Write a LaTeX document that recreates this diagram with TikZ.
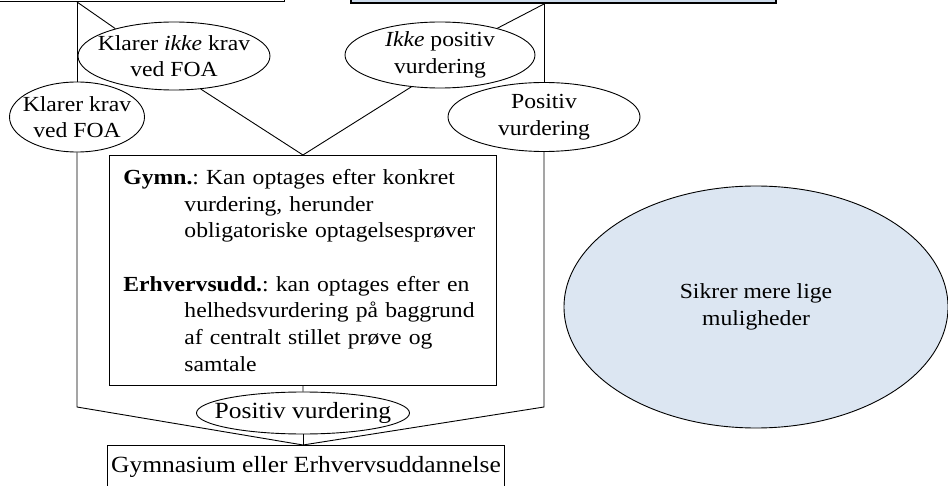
\documentclass[tikz,border=0pt]{standalone}
\usepackage{fontspec}
\setmainfont{Liberation Serif}[FakeStretch=1.1]
\usetikzlibrary{shapes.geometric}
\definecolor{boxblue}{RGB}{205,219,235}
\definecolor{ellblue}{RGB}{220,230,242}
\frenchspacing
\begin{document}
\begin{tikzpicture}[x=1pt,y=-1pt,line width=0.9pt,
  every node/.style={font=\fontsize{21.5}{26.7}\selectfont},
  bigfont/.style={font=\fontsize{23.2}{26.7}\selectfont},
  oval/.style={draw,ellipse,fill=white,inner xsep=-30pt,inner ysep=0pt,align=center},
  plainbox/.style={draw,rectangle,fill=white}]
\useasboundingbox (0,0) rectangle (948,486);
\clip (0,0) rectangle (948,486);
% top boxes (cut off by the frame)
\node[plainbox,minimum width=300pt,minimum height=60pt,anchor=south east] (topL) at (285,2) {};
\node[draw,fill=boxblue,line width=2.2pt,minimum width=425pt,minimum height=60pt,anchor=south west] (topR) at (350,4) {};
% middle box
\node[plainbox,anchor=north west,minimum width=387pt,minimum height=230pt,text width=359pt,inner xsep=14pt,align=left] (mid) at (109,155)
{\textbf{Gymn.}: Kan optages efter konkret\\
\hspace*{61pt}vurdering, herunder\\
\hspace*{61pt}obligatoriske optagelsesprøver\\[26.7pt]
\textbf{Erhvervsudd.}: kan optages efter en\\
\hspace*{61pt}helhedsvurdering på baggrund\\
\hspace*{61pt}af centralt stillet prøve og\\
\hspace*{61pt}samtale};
% ellipses
\node[oval,minimum width=192pt,minimum height=68pt] (e1) at (174,56) {Klarer \textit{ikke} krav\\ved FOA};
\node[oval,minimum width=135pt,minimum height=70pt] (e2) at (77,117) {Klarer krav\\ved FOA};
\node[oval,minimum width=190pt,minimum height=66pt] (e3) at (440,55) {\textit{Ikke} positiv\\vurdering};
\node[oval,minimum width=192pt,minimum height=69pt] (e4) at (544,117) {Positiv\\vurdering};
\node[oval,bigfont,minimum width=213pt,minimum height=42pt] (e5) at (303,413) {Positiv vurdering};
\node[draw,ellipse,fill=ellblue,minimum width=384pt,minimum height=242pt,inner xsep=-60pt,inner ysep=0pt,align=center] (big) at (756,307) {Sikrer mere lige\\muligheder};
% bottom box
\node[plainbox,bigfont,anchor=north,minimum width=394pt,minimum height=44pt] (bot) at (306,445) {Gymnasium eller Erhvervsuddannelse};
% connector points
\coordinate (aL) at (77,2);
\coordinate (aR) at (544,4);
\coordinate (kL) at (77,407);
\coordinate (kR) at (544,407);
\coordinate (bn) at (303,445);
% connectors
\draw (aL) -- (e2.north);
\draw (e2.south) -- (kL) -- (bn);
\draw (aL) -- (e1.155);
\draw (e1.-51) -- (mid.north);
\draw (aR) -- (e3.25);
\draw (e3.228) -- (mid.north);
\draw (aR) -- (e4.north);
\draw (e4.south) -- (kR) -- (bn);
\draw (mid.south) -- (e5.north);
\draw (e5.south) -- (bn);
\end{tikzpicture}
\end{document}
